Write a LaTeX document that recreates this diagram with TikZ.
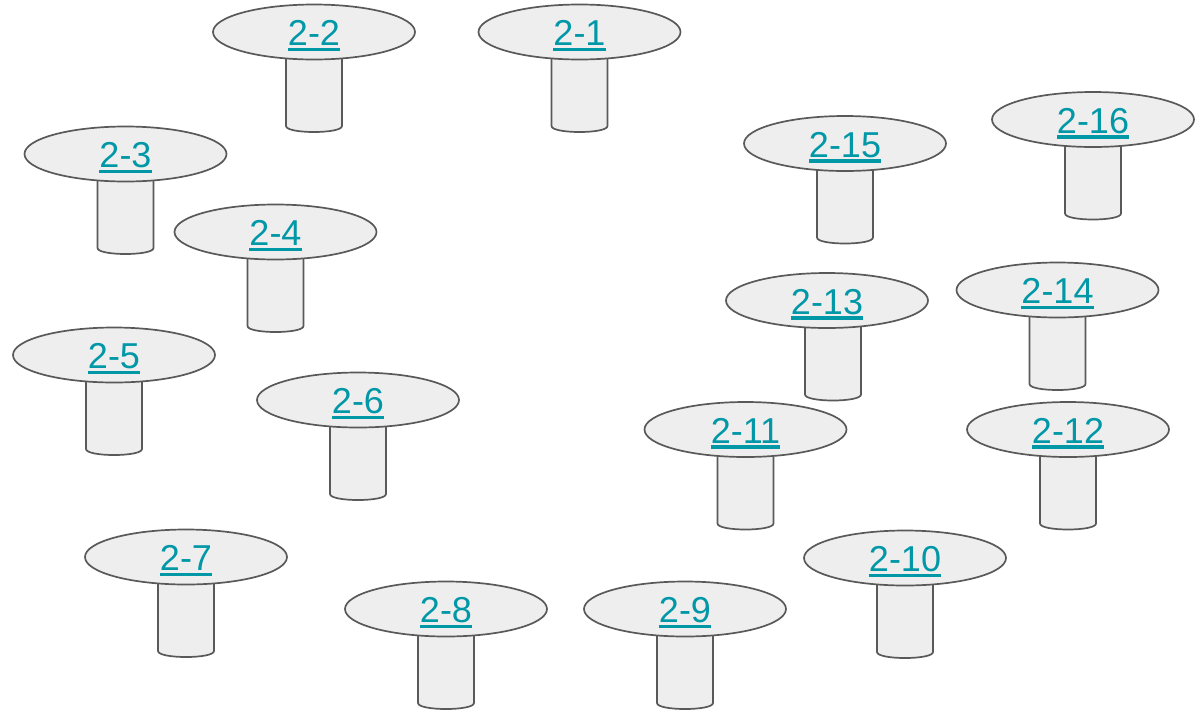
\documentclass[tikz,border=0pt]{standalone}
\usepackage{fontspec}
\setmainfont{Liberation Sans}
\definecolor{linkteal}{HTML}{0097A7}
\definecolor{edgegray}{HTML}{595959}
\definecolor{tablefill}{HTML}{EEEEEE}
\tikzset{
  tablepart/.style={draw=edgegray, fill=tablefill, line width=1.7pt},
  tablelabel/.style={text=linkteal, font=\fontsize{36}{40}\selectfont, inner sep=0pt, anchor=base},
  underlinestyle/.style={draw=linkteal, line width=3.4pt}
}
\begin{document}
\begin{tikzpicture}[x=1pt,y=-1pt]
\useasboundingbox (0,0) rectangle (1196,710);
\foreach \n/\cx/\cy/\sx in {
  2-1/579.5/32/0, 2-2/314/32/0, 2-16/1093/119.5/0, 2-15/845/143.5/0, 2-3/125.5/154/0,
  2-4/275.5/232/0, 2-14/1057.5/290/0, 2-13/827/300.5/6, 2-5/114/355/0,
  2-6/358/400/0, 2-11/745.5/429.5/0, 2-12/1068/429.5/0, 2-7/186/557/0,
  2-10/905/558/0, 2-8/446/609/0, 2-9/685/609/0}
{
  \draw[tablepart] (\cx+\sx-28,\cy) -- (\cx+\sx-28,\cy+94)
     .. controls (\cx+\sx-28,\cy+102) and (\cx+\sx+28,\cy+102) .. (\cx+\sx+28,\cy+94)
     -- (\cx+\sx+28,\cy) -- cycle;
  \draw[tablepart] (\cx,\cy) ellipse [x radius=101pt, y radius=27.5pt];
  \node[tablelabel] (t\n) at (\cx,\cy+13.5) {\n};
  \draw[underlinestyle] ([yshift=-4pt]t\n.base west) -- ([yshift=-4pt]t\n.base east);
}
\end{tikzpicture}
\end{document}
